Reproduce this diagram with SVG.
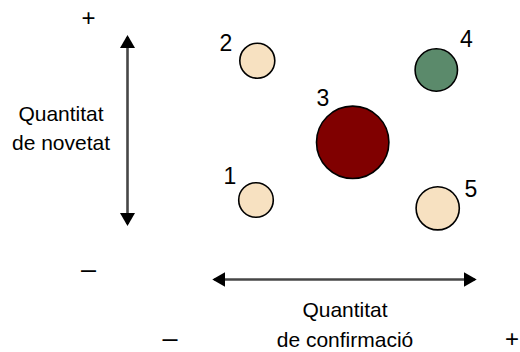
<svg xmlns="http://www.w3.org/2000/svg" width="520" height="352" viewBox="0 0 520 352">
<style>
.t{font-family:"Liberation Sans",Arial,sans-serif;fill:#000;text-anchor:middle}
.lbl{font-size:21px}
.num{font-size:23px}
.sg{font-size:24px}
.c{stroke:#000;stroke-width:1.6}
.beige{fill:#F7E1C1}
.ax{stroke:#474747;stroke-width:2.6;fill:none}
</style>
<defs>
<marker id="ah" viewBox="0 0 13 15" refX="11" refY="7.5" markerWidth="13" markerHeight="15" markerUnits="userSpaceOnUse" orient="auto-start-reverse">
<path d="M0,0 L13,7.5 L0,15 Z" fill="#000"/>
</marker>
</defs>
<g id="connectors">
<line class="ax" x1="127.5" y1="37" x2="127.5" y2="224" marker-start="url(#ah)" marker-end="url(#ah)"/>
<line class="ax" x1="214.3" y1="279.5" x2="474.7" y2="279.5" marker-start="url(#ah)" marker-end="url(#ah)"/>
</g>
<g id="axis-labels">
<text class="t sg" x="88.5" y="26">+</text>
<text class="t lbl" x="61" y="121">Quantitat</text>
<text class="t lbl" x="61" y="150">de novetat</text>
<text class="t sg" x="88.5" y="278" style="font-size:27px">–</text>
<text class="t lbl" x="345" y="317">Quantitat</text>
<text class="t lbl" x="345" y="347">de confirmació</text>
<text class="t sg" x="170" y="347" style="font-size:27px">–</text>
<text class="t sg" x="512" y="347">+</text>
</g>
<g id="node1">
<circle class="c beige" cx="256" cy="200" r="17.3"/>
<text class="t num" x="230" y="184">1</text>
</g>
<g id="node2">
<circle class="c beige" cx="257.3" cy="60.7" r="17.5"/>
<text class="t num" x="226" y="50.5">2</text>
</g>
<g id="node3">
<circle class="c" cx="352.7" cy="142.3" r="36.2" fill="#800000"/>
<text class="t num" x="323" y="106">3</text>
</g>
<g id="node4">
<circle class="c" cx="436.3" cy="70" r="21.2" fill="#5B8A6B"/>
<text class="t num" x="466.5" y="47">4</text>
</g>
<g id="node5">
<circle class="c beige" cx="437.7" cy="208.3" r="21.6"/>
<text class="t num" x="471" y="197">5</text>
</g>
</svg>
